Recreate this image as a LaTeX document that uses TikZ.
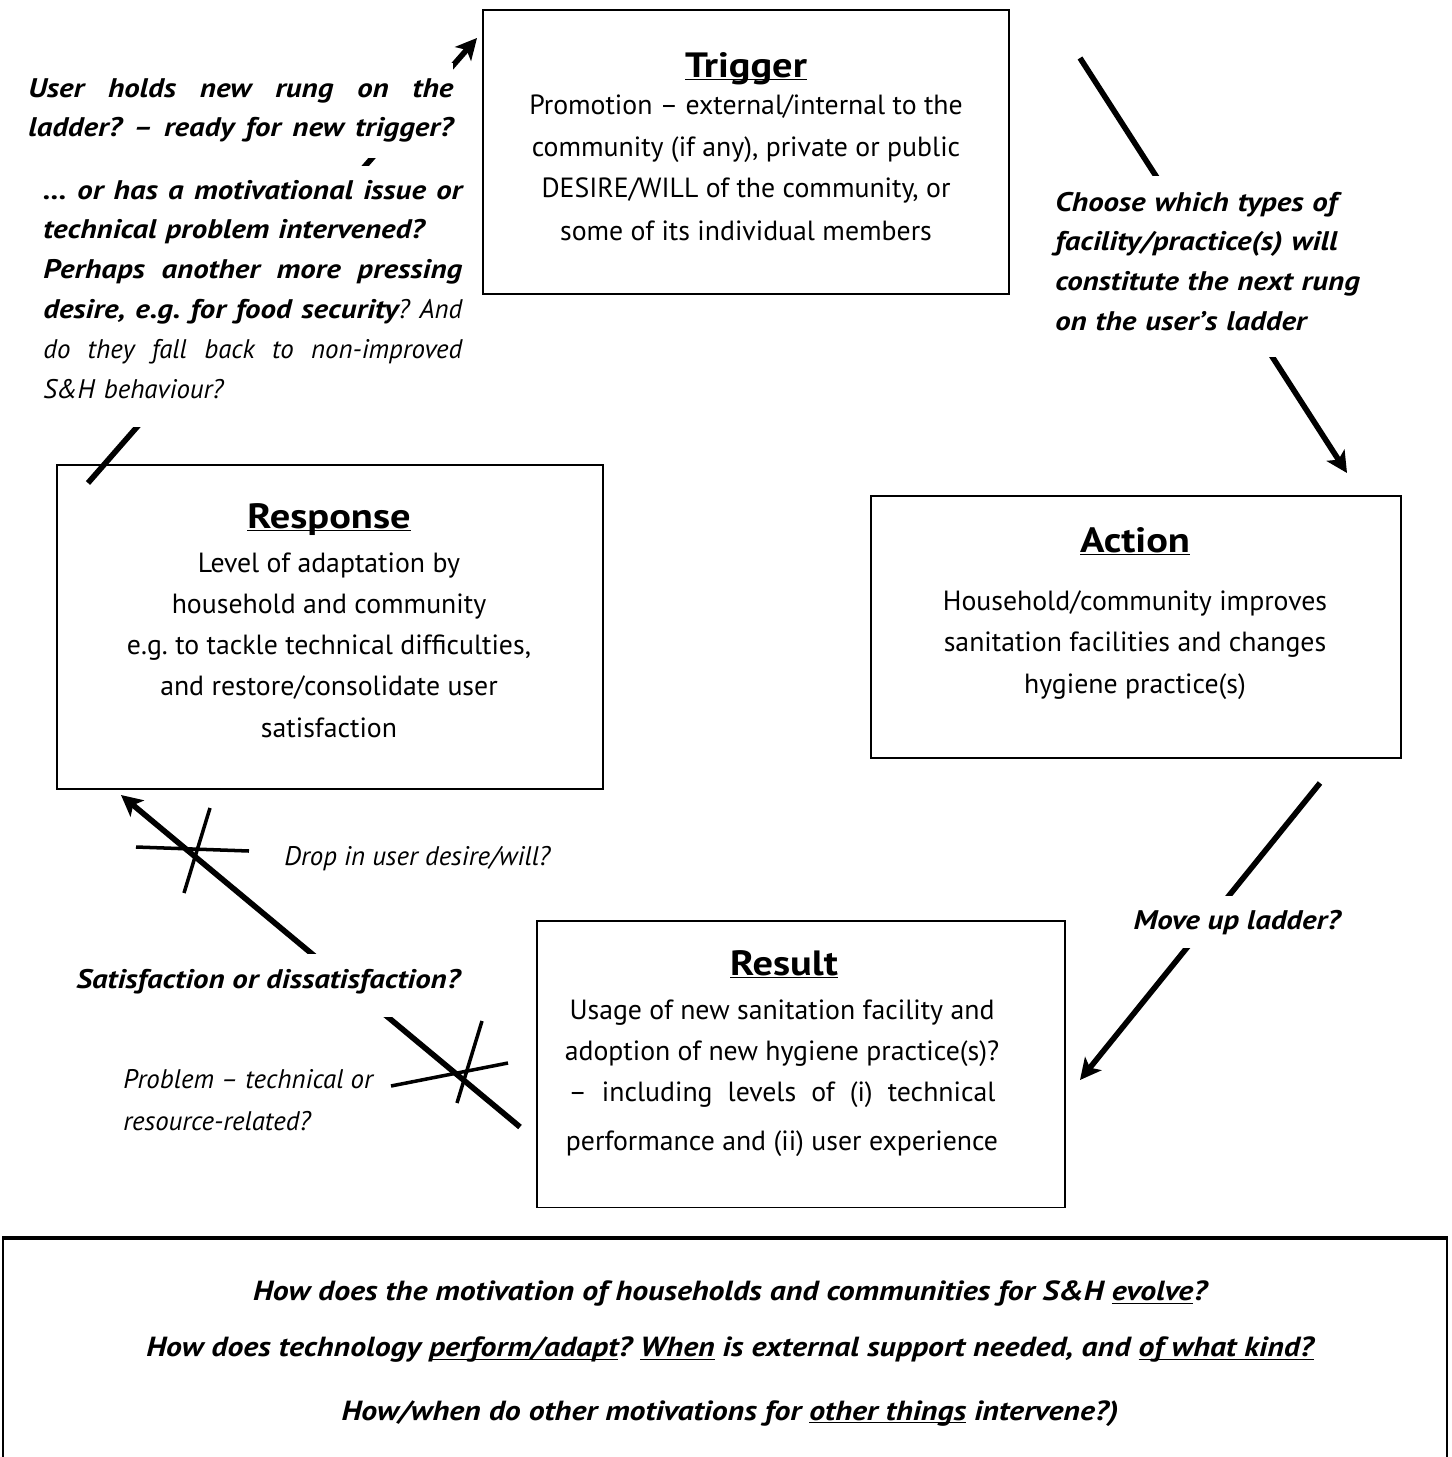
\documentclass[tikz,border=0pt]{standalone}
\usepackage{fontspec}
\setmainfont{PT Sans}[BoldFeatures={FakeStretch=1.15}, BoldItalicFeatures={FakeStretch=1.15}]
\usetikzlibrary{positioning, arrows.meta, calc}
\newcommand{\ulword}[1]{\underline{\smash{#1}}}
\newcommand{\spread}[2]{\leavevmode\hbox to #1{\spaceskip=0.3em plus 1fil\relax #2}}
\newcommand{\lowpad}[1]{\rule[-#1]{0pt}{#1}}

\begin{document}
\frenchspacing
\begin{tikzpicture}[x=0.02cm, y=-0.02cm,
    stagebox/.style={draw, line width=1.1pt, inner sep=0pt},
    stagetitle/.style={anchor=base, font=\fontsize{20}{24}\selectfont\bfseries},
    stagetext/.style={anchor=base, align=center, font=\fontsize{15.8}{23.4}\selectfont},
    notetext/.style={fill=white, inner xsep=0pt, inner ysep=8pt, font=\fontsize{15.3}{22.7}\selectfont\itshape},
    boldnote/.style={notetext, font=\fontsize{15.3}{22.7}\selectfont\bfseries\itshape},
    looparrow/.style={line width=3.2pt, -{Stealth[length=12pt, width=12pt, inset=3pt]}},
    crossline/.style={line width=2pt}]
    \useasboundingbox (0,0) rectangle (1451,1457);

    % the four stages
    \node[stagebox, minimum width=10.52cm, minimum height=5.68cm] (trigger) at (746,152) {};
    \node[stagebox, minimum width=10.92cm, minimum height=6.48cm] (response) at (330,627) {};
    \node[stagebox, minimum width=10.6cm, minimum height=5.24cm] (action) at (1136,627) {};
    \node[stagebox, minimum width=10.56cm, minimum height=5.74cm] (result) at (801,1064) {};

    % (base of a centred block = its last line)
    \node[stagetitle] (trigger-title) at (746,77) {\ulword{Trigger}};
    \node[stagetext] (trigger-text) at (746,240) {Promotion – external/internal to the\\ community (if any), private or public\\ DESIRE/WILL of the community, or\\[1pt] some of its individual members};

    \node[stagetitle] (response-title) at (329,528) {\ulword{Response}};
    \node[stagetext] (response-text) at (329,737) {Level of adaptation by\\ household and community\\ e.g. to tackle technical difficulties,\\ and restore/consolidate user\\ satisfaction};

    \node[stagetitle] (action-title) at (1135,552) {\ulword{Action}};
    \node[stagetext] (action-text) at (1135,693) {Household/community improves\\ sanitation facilities and changes\\ hygiene practice(s)};

    \node[stagetitle] (result-title) at (784,975) {\ulword{Result}};
    \node[stagetext] (result-text) at (782,1150) {Usage of new sanitation facility and\\ adoption of new hygiene practice(s)?\\ \spread{8.54cm}{– including levels of (i) technical}\\[4pt] performance and (ii) user experience};

    % the loop, drawn whole and hidden behind the labels
    \coordinate (tr-a) at (1080,58);
    \coordinate (tr-b) at (1347,473);
    \draw[looparrow] (tr-a) -- (tr-b);
    \coordinate (ar-a) at (1320,783);
    \coordinate (ar-b) at (1080,1080);
    \draw[looparrow] (ar-a) -- (ar-b);
    \coordinate (rr-a) at (520,1127);
    \coordinate (rr-b) at (121,795);
    \draw[looparrow] (rr-a) -- (rr-b);
    \coordinate (rt-a) at (88,483);
    \coordinate (rt-b) at (477,38);
    \draw[looparrow] (rt-a) -- (rt-b);

    % crossed-out paths
    \draw[crossline] (136,847) -- (249,851);
    \draw[crossline] (210,808) -- (184,893);
    \draw[crossline] (391,1086) -- (508,1063);
    \draw[crossline] (482,1021) -- (457,1103);

    % labels
    \node[boldnote, text width=8.5cm, inner ysep=8.5pt, anchor=base west] (ladder-note) at (28,97) {\spread{8.5cm}{User holds new rung on the}\\ \spread{8.5cm}{ladder? – ready for new trigger?}};
    \node[notetext, text width=8.38cm, align=left, anchor=base west] (fallback-note) at (43,199) {\spread{8.38cm}{\bfseries … or has a motivational issue or}\\ {\bfseries technical problem intervened?}\\ \spread{8.38cm}{\bfseries Perhaps another more pressing}\\ \spread{8.38cm}{\bfseries desire, e.g. for food security\mdseries? And}\\ \spread{8.38cm}{do they fall back to non-improved}\\ S\&H behaviour?\lowpad{8pt}};
    \node[boldnote, text width=6.8cm, inner ysep=9pt, align=left, anchor=base west] (choose-note) at (1055,211) {Choose which types of\\ facility/practice(s) will\\ constitute the next rung\\ on the user’s ladder\lowpad{6pt}};
    \node[boldnote, anchor=base] (move-note) at (1237,929) {Move up ladder?};
    \node[notetext, anchor=base west] (drop-note) at (284,865) {Drop in user desire/will?};
    \node[boldnote, inner ysep=8.5pt, anchor=base west] (satisfaction-note) at (76,988) {Satisfaction or dissatisfaction?\lowpad{8pt}};
    \node[notetext, align=left, anchor=base west] (problem-note) at (123,1130) {Problem – technical or\\[1pt] resource-related?};

    % open frame with the questions
    \draw[line width=1.1pt] (3,1457) -- (3,1238) -- (1447,1238) -- (1447,1457);
    \draw[line width=2.4pt] (2,1238) -- (1448,1238);
    \node[boldnote, font=\fontsize{15.75}{22.7}\selectfont\bfseries\itshape, align=center, anchor=base] (questions) at (730,1420) {How does the motivation of households and communities for S\&H \ulword{evolve}?\\[9pt] How does technology \ulword{perform/adapt}? \ulword{When} is external support needed, and \ulword{of what kind?}\\[13.5pt] How/when do other motivations for \ulword{other things} intervene?)};
\end{tikzpicture}
\end{document}
